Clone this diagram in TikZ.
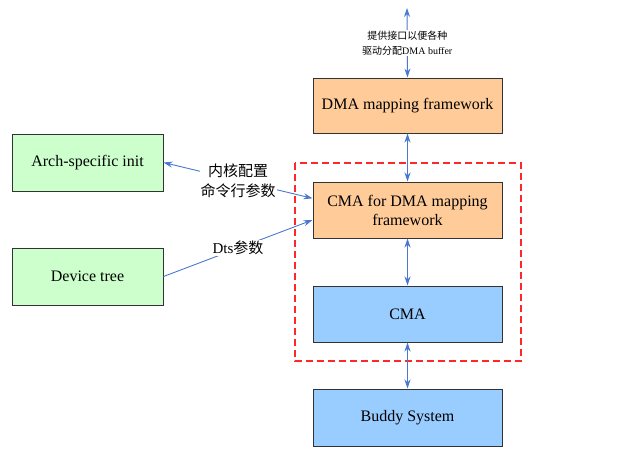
\documentclass[tikz,border=0pt]{standalone}
\usepackage{fontspec}
\setmainfont{Liberation Serif}
\newfontfamily\cjk{Noto Sans CJK SC}
\usetikzlibrary{arrows.meta}
\definecolor{orangefill}{HTML}{FFCC99}
\definecolor{greenfill}{HTML}{CCFFCC}
\definecolor{bluefill}{HTML}{99CCFF}
\definecolor{arrowblue}{HTML}{4A78D0}
\definecolor{framered}{RGB}{255,40,40}
\definecolor{boxedge}{HTML}{333333}
\tikzset{
  box/.style={draw=boxedge, line width=1pt, minimum width=189pt, minimum height=56pt,
    align=center, font=\fontsize{16}{19}\selectfont, inner sep=2pt},
  sidebox/.style={box, fill=greenfill, minimum width=151pt, minimum height=57pt},
  link/.style={draw=arrowblue, line width=0.9pt},
  tip/.style={-{Stealth[length=9pt,width=6pt]}},
  bitip/.style={{Stealth[length=9pt,width=6pt]}-{Stealth[length=9pt,width=6pt]}},
  lbl/.style={fill=white, align=center, inner sep=1pt, font=\fontsize{15}{20}\selectfont},
  smalllbl/.style={fill=white, align=center, inner sep=1pt, font=\fontsize{10}{15}\selectfont},
  frame/.style={color=framered, line width=1.3pt, dash pattern=on 7pt off 4pt}
}
\begin{document}
\begin{tikzpicture}[x=1pt,y=-1pt]
\useasboundingbox (0,0) rectangle (636,458);
% red dashed frame
\draw[frame] (295,163) rectangle (521,361);
% boxes
\node[box, fill=orangefill, minimum height=55pt] (dma) at (407.5,105.5) {DMA mapping framework};
\node[box, fill=orangefill] (cfd) at (407.5,210) {CMA for DMA mapping\\framework};
\node[box, fill=bluefill] (cma) at (407.5,314) {CMA};
\node[box, fill=bluefill, minimum height=57pt] (buddy) at (407.5,417.5) {Buddy System};
\node[sidebox] (arch) at (87.5,162.5) {Arch-specific init};
\node[sidebox] (dev) at (87.5,276.5) {Device tree};
% top arrow
\coordinate (topend) at (407,8);
\draw[link, bitip] (dma.north) -- node[smalllbl] {{\cjk 提供接口以便各种}\\{\cjk 驱动分配}DMA buffer} (topend);
% vertical links
\draw[link, bitip] (dma.south) -- (cfd.north);
\draw[link, bitip] (cfd.south) -- (cma.north);
\draw[link, bitip] (cma.south) -- (buddy.north);
% side links
\draw[link, bitip] (arch.east) -- node[lbl] {\cjk 内核配置\\\cjk 命令行参数} (cfd.173);
\draw[link, tip] (dev.east) -- node[lbl] {Dts{\cjk 参数}} (cfd.186);
\end{tikzpicture}
\end{document}
